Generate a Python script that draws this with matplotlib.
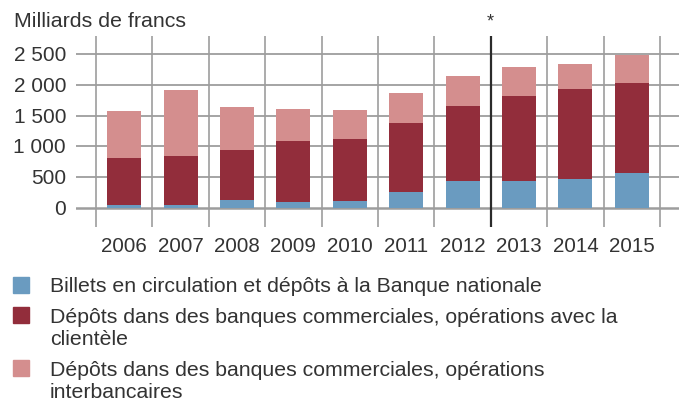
import matplotlib

matplotlib.use("Agg")
import matplotlib.pyplot as plt
from matplotlib.patches import Rectangle
from matplotlib.transforms import blended_transform_factory
import numpy as np

years = ["2006", "2007", "2008", "2009", "2010", "2011", "2012", "2013", "2014", "2015"]
# cumulative tops (Mrd CHF)
billets = [50, 50, 130, 97, 114, 260, 438, 438, 471, 568]
clientele_top = [812, 844, 942, 1088, 1120, 1380, 1656, 1818, 1932, 2029]
total = [1575, 1916, 1640, 1607, 1591, 1867, 2143, 2289, 2338, 2484]
yticks = [0, 500, 1000, 1500, 2000, 2500]
ytick_labels = ["0", "500", "1 000", "1 500", "2 000", "2 500"]
labels = [
    "Billets en circulation et dépôts à la Banque nationale",
    "Dépôts dans des banques commerciales, opérations avec la\nclientèle",
    "Dépôts dans des banques commerciales, opérations\ninterbancaires",
]
colors = ["#6a9bc0", "#922d3b", "#d48e8e"]

clientele = np.array(clientele_top) - np.array(billets)
interbank = np.array(total) - np.array(clientele_top)

plt.rcParams["font.family"] = ["Liberation Sans", "DejaVu Sans"]
text_col = "#333333"
grid_col = "#9d9d9d"

W, H = 686, 403


def fx(px):
    return px / W


def fy(py):
    return 1 - py / H


fig = plt.figure(figsize=(W / 100, H / 100), dpi=100)
ax = fig.add_axes([fx(76), fy(227), (679 - 76) / W, (227 - 36) / H])

x = np.arange(len(years))
ax.bar(x, billets, width=0.6, color=colors[0], zorder=3)
ax.bar(x, clientele, width=0.6, bottom=billets, color=colors[1], zorder=3)
ax.bar(x, interbank, width=0.6, bottom=clientele_top, color=colors[2], zorder=3)

ax.set_xlim(-0.855, 9.837)
ax.set_ylim(-308, 2792)

for yv in yticks:
    ax.axhline(yv, color=grid_col, lw=1.3 if yv else 1.8, zorder=1)
for xv in np.arange(-0.5, 10, 1.0):
    if xv == 6.5:
        ax.axvline(xv, color="#2b2b2b", lw=1.6, zorder=4)
    else:
        ax.axvline(xv, color=grid_col, lw=1.2, zorder=1)

for s in ax.spines.values():
    s.set_visible(False)
ax.set_xticks([])
ax.set_yticks([])

# year labels: x in data, y in figure pixels
year_tr = blended_transform_factory(ax.transData, fig.transFigure)
for xv, lab in zip(x, years):
    ax.text(xv, fy(252), lab, ha="center", va="baseline", fontsize=14.8,
            color=text_col, transform=year_tr)

for yv, lab in zip(yticks, ytick_labels):
    fig.text(fx(66), fy(208 - yv * 154 / 2500 + 7), lab, ha="right", va="baseline",
             fontsize=15, color=text_col)

fig.text(fx(490), fy(22), "*", ha="center", va="center", fontsize=13, color=text_col)
fig.text(fx(14), fy(27), "Milliards de francs", ha="left", va="baseline",
         fontsize=15.4, color=text_col)

# legend drawn by hand; baseline given for the last line of each label
for yc, base, lab, c in zip([285, 315, 368], [292, 345, 398], labels, colors):
    fig.patches.append(Rectangle((fx(13), fy(yc + 8)), 16 / W, 16 / H,
                                 transform=fig.transFigure, color=c))
    fig.text(fx(50), fy(base), lab, ha="left", va="baseline", fontsize=15.3,
             color=text_col, linespacing=1.2)

fig.savefig("out.png", dpi=100)
